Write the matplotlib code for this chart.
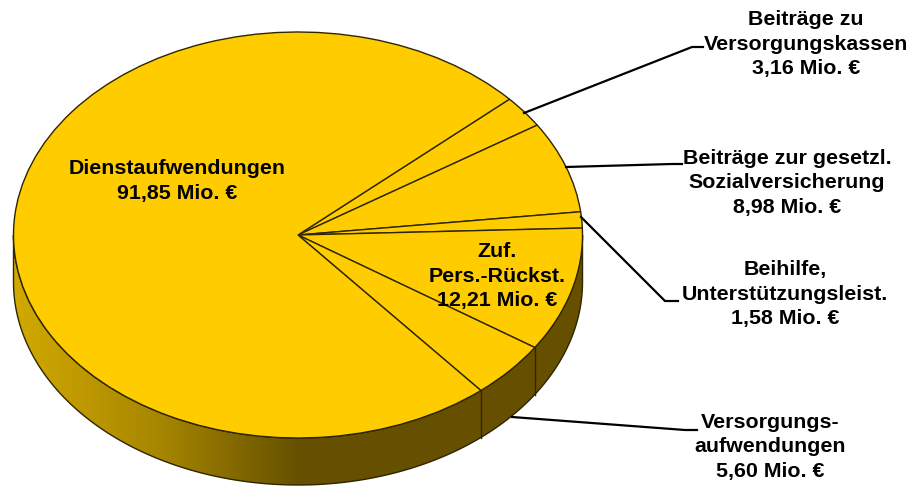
import matplotlib
matplotlib.use("Agg")
import matplotlib.pyplot as plt
import numpy as np
from matplotlib.colors import LinearSegmentedColormap
from matplotlib.patches import Polygon

plt.rcParams['font.family'] = ['Liberation Sans', 'DejaVu Sans']

# clockwise from the upper right slice
names = ["Beiträge zu\nVersorgungskassen", "Beiträge zur gesetzl.\nSozialversicherung",
         "Beihilfe,\nUnterstützungsleist.", "Zuf.\nPers.-Rückst.",
         "Versorgungs-\naufwendungen", "Dienstaufwendungen"]
values = [3.16, 8.98, 1.58, 12.21, 5.60, 91.85]
start = 42

W, H = 919, 487
cx, cy, rx, ry, depth = 298, 235, 284.5, 203, 47

# pixel position -> data position
def px(x, y):
    return (x - cx) / rx, (cy - y) / ry

def label(i, x, y, **kw):
    s = names[i] + "\n" + ("%.2f" % values[i]).replace(".", ",") + " Mio. €"
    ax.text(*px(x, y), s, ha="center", va="center", fontsize=15.4, fontweight="bold",
            linespacing=1.34, color="black", zorder=6, **kw)

def leader(pts):
    xy = np.array([px(*p) for p in pts])
    ax.plot(xy[:, 0], xy[:, 1], color="black", lw=1.6, zorder=5, solid_joinstyle="miter")

fig = plt.figure(figsize=(W / 100, H / 100), dpi=100)
ax = fig.add_axes([0, 0, 1, 1])

# top face
ax.pie(values, startangle=start, counterclock=False, radius=1, colors=["#ffcc00"] * 6,
       wedgeprops=dict(edgecolor="#2e2600", linewidth=1.0, zorder=4))
ax.set_aspect("auto")

# side wall
d = depth / ry
t = np.radians(np.linspace(180, 360, 300))
side = np.vstack([np.c_[np.cos(t), np.sin(t)], np.c_[np.cos(t[::-1]), np.sin(t[::-1]) - d]])
cmap = LinearSegmentedColormap.from_list("wall", [(0, "#d2a900"), (0.25, "#a88700"),
                                                  (0.5, "#665000"), (1, "#665000")])
grad = np.linspace(0, 1, 256).reshape(1, -1)
im = ax.imshow(grad, cmap=cmap, aspect="auto", extent=(-1, 1, -1 - d, 0), zorder=2,
               vmin=0, vmax=1)
patch = Polygon(side, closed=True, facecolor="none", edgecolor="#2e2600", lw=1.0, zorder=3)
ax.add_patch(patch)
im.set_clip_path(patch)

# slice borders on the wall
ang = start - np.cumsum(values) / sum(values) * 360
for a in np.radians(ang):
    if np.sin(a) < 0:
        ax.plot([np.cos(a)] * 2, [np.sin(a), np.sin(a) - d], color="#2e2600", lw=1.0, zorder=3)

ax.set_xlim(px(0, 0)[0], px(W, 0)[0])
ax.set_ylim(px(0, H)[1], px(0, 0)[1])
ax.axis("off")

leader([(524, 113), (692, 47), (703, 47)])
leader([(566, 167), (672, 164), (682, 164)])
leader([(581, 217), (665, 301), (678, 301)])
leader([(512, 417), (685, 430), (697, 430)])

label(0, 806, 44)
label(1, 787, 183)
label(2, 785, 294)
label(3, 497, 276)
label(4, 770, 447)
label(5, 177, 181)

fig.savefig("out.png", dpi=100)
